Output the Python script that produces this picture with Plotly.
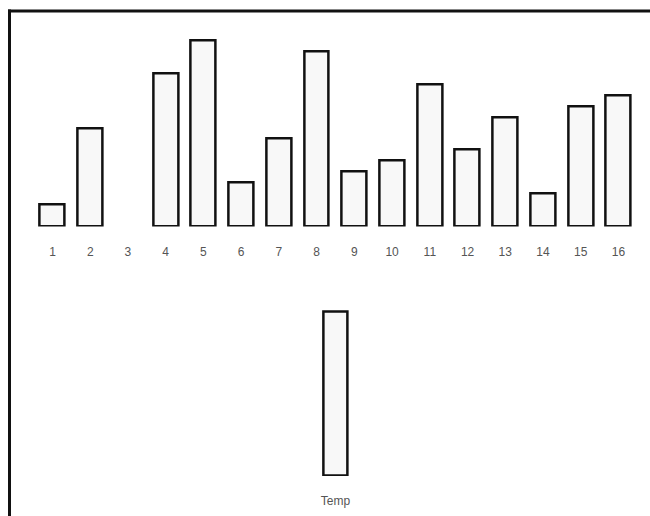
import plotly.graph_objects as go

# Data
positions = ["1", "2", "3", "4", "5", "6", "7", "8", "9", "10", "11", "12", "13", "14", "15", "16"]
values = [2, 9, 0, 14, 17, 4, 8, 16, 5, 6, 13, 7, 10, 3, 11, 12]
temp_label = ["Temp"]
temp_value = [15]

W, H = 650, 516
unit = 10.95         # pixels per value unit
base_top = 226.5     # baseline pixel (from top) of the array chart
base_temp = 476      # baseline pixel of the temp bar
ymax_top = 19
ymax_temp = 16

def py(p):  # pixel-from-top -> paper fraction
    return (H - p) / H

line_widths = [2.5 if v > 0 else 0 for v in values]

fig = go.Figure()
fig.add_trace(go.Bar(
    x=list(range(1, 17)), y=values, width=0.66,
    marker=dict(color="#f8f8f8", line=dict(color="#111111", width=line_widths)),
    xaxis="x", yaxis="y", showlegend=False, hoverinfo="skip"))
fig.add_trace(go.Bar(
    x=temp_label, y=temp_value, width=0.64,
    marker=dict(color="#f8f8f8", line=dict(color="#111111", width=2.5)),
    xaxis="x2", yaxis="y2", showlegend=False, hoverinfo="skip"))

spacing = 37.73
x_left = 52.5 - spacing / 2
x_right = 618.5 + spacing / 2
cx_temp = 335.5

tickfont = dict(family="Liberation Sans, Arial, sans-serif", size=12, color="#555555")

fig.update_layout(
    width=W, height=H,
    margin=dict(l=0, r=0, t=0, b=0),
    paper_bgcolor="white", plot_bgcolor="rgba(0,0,0,0)",
    bargap=0,
    xaxis=dict(domain=[x_left / W, x_right / W], range=[0.5, 16.5],
               tickmode="array", tickvals=list(range(1, 17)), ticktext=positions,
               showgrid=False, zeroline=False, showline=False,
               ticks="outside", ticklen=14, tickcolor="rgba(0,0,0,0)",
               tickfont=tickfont, anchor="y", fixedrange=True),
    yaxis=dict(domain=[py(base_top), py(base_top - ymax_top * unit)], range=[0, ymax_top],
               visible=False, anchor="x", fixedrange=True),
    xaxis2=dict(domain=[(cx_temp - spacing / 2) / W, (cx_temp + spacing / 2) / W],
                showgrid=False, zeroline=False, showline=False,
                ticks="outside", ticklen=14, tickcolor="rgba(0,0,0,0)",
                tickfont=tickfont, anchor="y2", fixedrange=True),
    yaxis2=dict(domain=[py(base_temp), py(base_temp - ymax_temp * unit)], range=[0, ymax_temp],
                visible=False, anchor="x2", fixedrange=True),
    shapes=[
        dict(type="line", xref="paper", yref="paper", x0=8 / W, x1=1, y0=py(11), y1=py(11),
             line=dict(color="#111111", width=3)),
        dict(type="line", xref="paper", yref="paper", x0=9.5 / W, x1=9.5 / W, y0=py(9.5), y1=0,
             line=dict(color="#111111", width=3)),
    ],
)

fig.write_html("out.html", config={"displayModeBar": False},
               post_script="document.body.style.margin='0';document.body.style.overflow='hidden';")
